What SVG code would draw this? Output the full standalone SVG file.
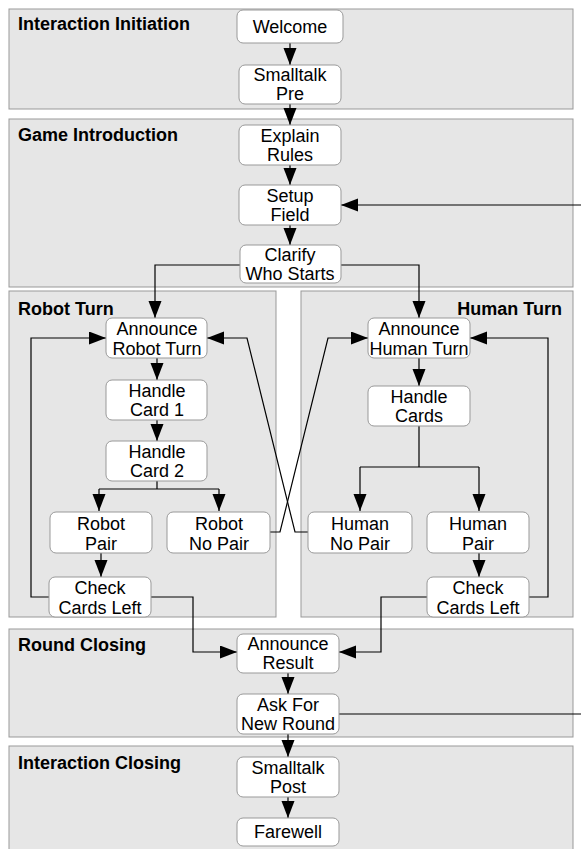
<svg xmlns="http://www.w3.org/2000/svg" width="581" height="849" viewBox="0 0 581 849">
<style>
.panel{fill:#e6e6e6;stroke:#999;stroke-width:1}
.title{font-family:"Liberation Sans",Arial,sans-serif;font-size:18px;font-weight:bold;fill:#000}
.node rect{fill:#fff;stroke:#999;stroke-width:1}
.node text{font-family:"Liberation Sans",Arial,sans-serif;font-size:18px;fill:#000;text-anchor:middle}
.c{fill:none;stroke:#000;stroke-width:1.2}
.a{marker-end:url(#ah)}
</style>
<defs>
<marker id="ah" markerUnits="userSpaceOnUse" markerWidth="18" markerHeight="14" refX="17" refY="6.5" orient="auto">
<path d="M0,0 L17,6.5 L0,13 z" fill="#000"/>
</marker>
</defs>
<rect width="581" height="849" fill="#fff"/>
<g id="panels">
<g id="p-init"><rect class="panel" x="9" y="9" width="564" height="100"/><text class="title" x="18" y="30">Interaction Initiation</text></g>
<g id="p-intro"><rect class="panel" x="9" y="119" width="564" height="168"/><text class="title" x="18" y="141">Game Introduction</text></g>
<g id="p-robot"><rect class="panel" x="9" y="291" width="267" height="326"/><text class="title" x="18" y="315">Robot Turn</text></g>
<g id="p-human"><rect class="panel" x="301" y="291" width="272" height="326"/><text class="title" x="562" y="315" text-anchor="end">Human Turn</text></g>
<g id="p-round"><rect class="panel" x="9" y="629" width="564" height="108"/><text class="title" x="18" y="651">Round Closing</text></g>
<g id="p-close"><rect class="panel" x="9" y="746" width="564" height="110"/><text class="title" x="18" y="769">Interaction Closing</text></g>
</g>
<g id="connectors">
<path class="c a" d="M290,43 L290,65"/>
<path class="c a" d="M290,104 L290,125"/>
<path class="c a" d="M290,165 L290,185"/>
<path class="c a" d="M290,225 L290,245"/>
<path class="c a" d="M581,205 L341,205"/>
<path class="c a" d="M240,265 L155,265 L155,318"/>
<path class="c a" d="M341,265 L419,265 L419,318"/>
<path class="c a" d="M157,358 L157,380"/>
<path class="c a" d="M157,420 L157,441"/>
<path class="c" d="M157,481 L157,489 M99,489 L219,489"/>
<path class="c a" d="M99,489 L99,511"/>
<path class="c a" d="M219,489 L219,511"/>
<path class="c a" d="M101,553 L101,577"/>
<path class="c a" d="M49,597 L31,597 L31,338 L106,338"/>
<path class="c a" d="M151,597 L193,597 L193,652 L237,652"/>
<path class="c a" d="M270,532 L280,532 L328,338 L368,338"/>
<path class="c a" d="M308,532 L295,532 L247,338 L207,338"/>
<path class="c a" d="M419,358 L419,386"/>
<path class="c" d="M419,426 L419,467 M360,467 L479,467"/>
<path class="c a" d="M360,467 L360,511"/>
<path class="c a" d="M479,467 L479,511"/>
<path class="c a" d="M479,553 L479,577"/>
<path class="c a" d="M529,597 L548,597 L548,338 L470,338"/>
<path class="c a" d="M427,597 L381,597 L381,652 L339,652"/>
<path class="c a" d="M288,673 L288,694"/>
<path class="c" d="M339,714 L581,714"/>
<path class="c a" d="M288,734 L288,757"/>
<path class="c a" d="M288,797 L288,818"/>
</g>
<g id="n-welcome" class="node"><rect x="237" y="10" width="106" height="33" rx="6"/><text x="290" y="33">Welcome</text></g>
<g id="n-smalltalk-pre" class="node"><rect x="239" y="65" width="102" height="39" rx="6"/><text x="290" y="81">Smalltalk</text><text x="290" y="100">Pre</text></g>
<g id="n-explain" class="node"><rect x="239" y="125" width="102" height="40" rx="6"/><text x="290" y="142">Explain</text><text x="290" y="161">Rules</text></g>
<g id="n-setup" class="node"><rect x="239" y="185" width="102" height="40" rx="6"/><text x="290" y="202">Setup</text><text x="290" y="221">Field</text></g>
<g id="n-clarify" class="node"><rect x="240" y="245" width="101" height="38" rx="6"/><text x="290" y="261">Clarify</text><text x="290" y="280">Who Starts</text></g>
<g id="n-ann-robot" class="node"><rect x="106" y="318" width="101" height="40" rx="6"/><text x="157" y="335">Announce</text><text x="157" y="355">Robot Turn</text></g>
<g id="n-card1" class="node"><rect x="106" y="380" width="101" height="40" rx="6"/><text x="157" y="397">Handle</text><text x="157" y="416">Card 1</text></g>
<g id="n-card2" class="node"><rect x="106" y="441" width="101" height="40" rx="6"/><text x="157" y="458">Handle</text><text x="157" y="477">Card 2</text></g>
<g id="n-robot-pair" class="node"><rect x="50" y="512" width="102" height="41" rx="6"/><text x="101" y="530">Robot</text><text x="101" y="550">Pair</text></g>
<g id="n-robot-nopair" class="node"><rect x="167" y="512" width="103" height="41" rx="6"/><text x="219" y="530">Robot</text><text x="219" y="550">No Pair</text></g>
<g id="n-check-robot" class="node"><rect x="49" y="577" width="102" height="40" rx="6"/><text x="100" y="594">Check</text><text x="100" y="614">Cards Left</text></g>
<g id="n-ann-human" class="node"><rect x="368" y="318" width="102" height="40" rx="6"/><text x="419" y="335">Announce</text><text x="419" y="355">Human Turn</text></g>
<g id="n-cards" class="node"><rect x="368" y="386" width="102" height="40" rx="6"/><text x="419" y="403">Handle</text><text x="419" y="422">Cards</text></g>
<g id="n-human-nopair" class="node"><rect x="308" y="512" width="104" height="41" rx="6"/><text x="360" y="530">Human</text><text x="360" y="550">No Pair</text></g>
<g id="n-human-pair" class="node"><rect x="427" y="512" width="102" height="41" rx="6"/><text x="478" y="530">Human</text><text x="478" y="550">Pair</text></g>
<g id="n-check-human" class="node"><rect x="427" y="577" width="102" height="40" rx="6"/><text x="478" y="594">Check</text><text x="478" y="614">Cards Left</text></g>
<g id="n-result" class="node"><rect x="237" y="634" width="102" height="39" rx="6"/><text x="288" y="650">Announce</text><text x="288" y="669">Result</text></g>
<g id="n-ask" class="node"><rect x="237" y="694" width="102" height="40" rx="6"/><text x="288" y="711">Ask For</text><text x="288" y="730">New Round</text></g>
<g id="n-smalltalk-post" class="node"><rect x="237" y="757" width="102" height="40" rx="6"/><text x="288" y="774">Smalltalk</text><text x="288" y="793">Post</text></g>
<g id="n-farewell" class="node"><rect x="237" y="818" width="102" height="28" rx="6"/><text x="288" y="838">Farewell</text></g>
</svg>
